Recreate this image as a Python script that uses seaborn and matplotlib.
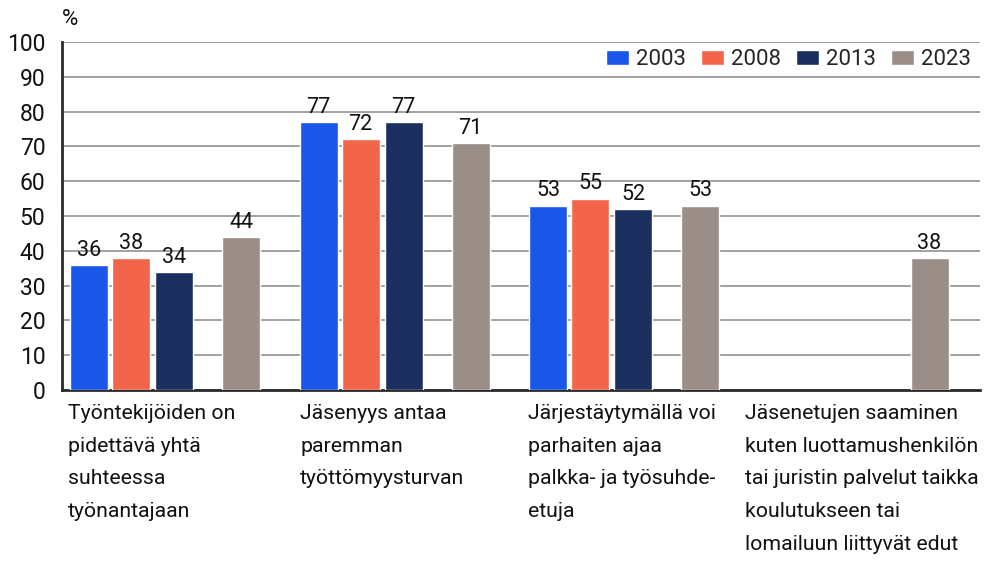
import numpy as np
import pandas as pd
import matplotlib
matplotlib.use("Agg")
import matplotlib.pyplot as plt
import seaborn as sns

categories = [
    "Työntekijöiden on\npidettävä yhtä\nsuhteessa\ntyönantajaan",
    "Jäsenyys antaa\nparemman\ntyöttömyysturvan",
    "Järjestäytymällä voi\nparhaiten ajaa\npalkka- ja työsuhde-\netuja",
    "Jäsenetujen saaminen\nkuten luottamushenkilön\ntai juristin palvelut taikka\nkoulutukseen tai\nlomailuun liittyvät edut",
]
years = ["2003", "2008", "2013", "2023"]
v2003 = [36, 77, 53, np.nan]
v2008 = [38, 72, 55, np.nan]
v2013 = [34, 77, 52, np.nan]
v2023 = [44, 71, 53, 38]
y_ticks = [0, 10, 20, 30, 40, 50, 60, 70, 80, 90, 100]

colors = ["#1a57e8", "#f2654b", "#1b2f5e", "#9b8d87"]

sns.set_theme(style="white")
plt.rcParams["font.family"] = ["Roboto", "DejaVu Sans"]

# layout offsets (relative to group centre) of each series slot, in group units
offsets = [-0.382, -0.199, -0.012, 0.280]
bar_w = 0.1656

rows = []
for yi, (yr, vals) in enumerate(zip(years, [v2003, v2008, v2013, v2023])):
    for gi, v in enumerate(vals):
        if not np.isnan(v):
            rows.append({"pos": gi + offsets[yi], "value": v, "year": yr})
df = pd.DataFrame(rows)

native = np.min(np.diff(np.unique(df["pos"].values)))

fig = plt.figure(figsize=(9.99, 5.63), dpi=100)
ax = fig.add_axes([0.0621, 0.3073, 0.9189, 0.6181])

sns.barplot(data=df, x="pos", y="value", hue="year", hue_order=years,
            palette=colors, native_scale=True, dodge=False,
            width=bar_w / native, saturation=1, ax=ax, legend=True, zorder=3)

ax.set_xlim(-0.5, 3.5)
ax.set_ylim(0, 100)
ax.set_yticks(y_ticks)
ax.set_yticklabels([str(t) for t in y_ticks], fontsize=16.5, color="#111111")
ax.tick_params(axis="y", length=0, pad=12)
ax.yaxis.grid(True, color="#9a9a9a", linewidth=1.3, zorder=0)
ax.set_axisbelow(True)

label_off = [-0.474, -0.463, -0.470, -0.524]
ax.set_xticks([i + o for i, o in enumerate(label_off)])
ax.set_xticklabels(categories, ha="left", va="top", fontsize=15.3,
                   linespacing=1.92, color="#111111")
ax.tick_params(axis="x", length=0, pad=10)
ax.set_xlabel("")
ax.set_ylabel("")

for s in ["top", "right"]:
    ax.spines[s].set_visible(False)
for s in ["left", "bottom"]:
    ax.spines[s].set_color("#2a2a2a")
    ax.spines[s].set_linewidth(2)

for cont in ax.containers:
    ax.bar_label(cont, fmt="%d", padding=3, fontsize=15.5, color="#111111")

ax.text(0.0, 1.035, "%", transform=ax.transAxes, fontsize=16,
        ha="left", va="bottom", color="#111111")

handles, labels = ax.get_legend_handles_labels()
ax.legend(handles, labels, loc="upper right", bbox_to_anchor=(1.0, 1.005),
          borderaxespad=0, ncol=4, frameon=False, fontsize=16,
          handlelength=1.05, handleheight=0.65, handletextpad=0.32,
          columnspacing=0.65)

fig.savefig("out.png", dpi=100)
